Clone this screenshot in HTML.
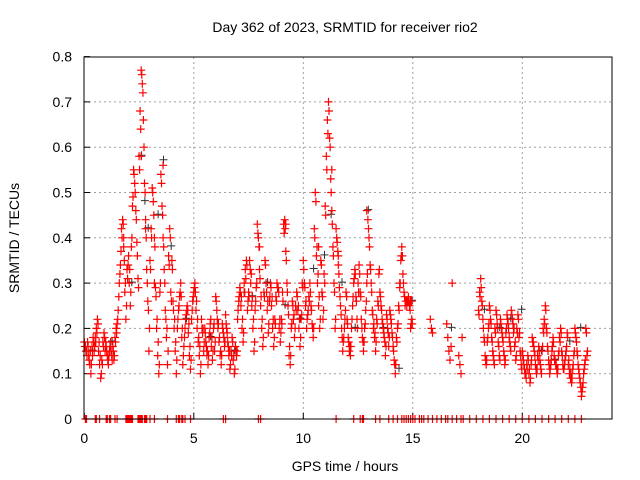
<!DOCTYPE html>
<html><head><meta charset="utf-8"><style>
body{margin:0;background:#fff;}
svg{display:block;font-family:"Liberation Sans",sans-serif;}
</style></head><body>
<svg id="chart" width="640" height="480" viewBox="0 0 640 480">
<text x="345" y="32" font-size="14" text-anchor="middle">Day 362 of 2023, SRMTID for receiver rio2</text>
<text x="345" y="471" font-size="14" text-anchor="middle">GPS time / hours</text>
<text x="19" y="238" font-size="14" text-anchor="middle" transform="rotate(-90 19 238)">SRMTID / TECUs</text>
<g id="grid"></g>
<g id="axes"></g>
<g id="marks"></g>
<rect x="84" y="57" width="528" height="362" fill="none" stroke="#000" stroke-width="1"/>
</svg>
<script>
const xTicks=[0,5,10,15,20];
const yTicks=[0,0.1,0.2,0.3,0.4,0.5,0.6,0.7,0.8];
const yTickLabels=["0","0.1","0.2","0.3","0.4","0.5","0.6","0.7","0.8"];
const segStart=[0,0.5,1,1.5,2,2.5,3,3.5,4,4.5,5,5.5,6,6.5,7,7.5,8,8.5,9,9.5,10,10.5,11,11.5,12,12.5,13,13.5,14,14.5,18,18.5,19,19.5,20,20.5,21,21.5,22,22.5];
const segVals=[
[0.17,0.16,0.15,0.17,0.14,0.12,0.1,0.16,0.18,0.15],
[0.18,0.2,0.22,0.15,0.12,0.09,0.13,0.17,0.19,0.15],
[0.16,0.14,0.12,0.15,0.17,0.14,0.16,0.13,0.18,0.2],
[0.21,0.24,0.3,0.34,0.42,0.44,0.38,0.28,0.22,0.33],
[0.34,0.3,0.25,0.38,0.47,0.55,0.52,0.46,0.39,0.31],
[0.58,0.68,0.77,0.74,0.66,0.52,0.42,0.33,0.26,0.15],
[0.35,0.42,0.51,0.48,0.4,0.29,0.2,0.14,0.1,0.28],
[0.54,0.47,0.4,0.33,0.24,0.18,0.12,0.36,0.42,0.28],
[0.35,0.26,0.2,0.15,0.1,0.2,0.24,0.27,0.3,0.18],
[0.12,0.16,0.2,0.23,0.25,0.19,0.14,0.11,0.22,0.26],
[0.28,0.3,0.24,0.2,0.17,0.14,0.1,0.22,0.19,0.15],
[0.2,0.17,0.14,0.12,0.18,0.21,0.16,0.13,0.2,0.15],
[0.27,0.24,0.2,0.17,0.14,0.12,0.21,0.19,0.16,0.23],
[0.2,0.17,0.14,0.11,0.15,0.18,0.13,0.1,0.16,0.14],
[0.22,0.26,0.29,0.25,0.2,0.17,0.3,0.33,0.35,0.24],
[0.28,0.35,0.3,0.25,0.2,0.15,0.24,0.29,0.43,0.4],
[0.33,0.25,0.2,0.16,0.28,0.35,0.3,0.24,0.19,0.26],
[0.3,0.25,0.2,0.16,0.22,0.27,0.3,0.29,0.2,0.17],
[0.22,0.28,0.43,0.44,0.37,0.3,0.25,0.14,0.12,0.2],
[0.26,0.22,0.18,0.25,0.28,0.24,0.2,0.16,0.22,0.3],
[0.35,0.3,0.25,0.2,0.23,0.27,0.3,0.25,0.21,0.18],
[0.42,0.5,0.36,0.3,0.25,0.2,0.35,0.28,0.22,0.32],
[0.47,0.58,0.66,0.7,0.62,0.53,0.46,0.38,0.3,0.2],
[0.42,0.39,0.34,0.29,0.25,0.2,0.15,0.18,0.22,0.28],
[0.22,0.18,0.15,0.14,0.2,0.25,0.3,0.33,0.27,0.22],
[0.3,0.34,0.28,0.22,0.18,0.15,0.2,0.24,0.3,0.44],
[0.4,0.34,0.3,0.24,0.2,0.18,0.15,0.22,0.26,0.32],
[0.28,0.25,0.22,0.2,0.18,0.14,0.23,0.2,0.16,0.24],
[0.22,0.19,0.16,0.13,0.1,0.18,0.2,0.25,0.29,0.35],
[0.38,0.32,0.28,0.25,0.26,0.26,0.27,0.25,0.2,0.22],
[0.24,0.28,0.31,0.26,0.22,0.18,0.14,0.12,0.17,0.2],
[0.25,0.22,0.18,0.15,0.13,0.2,0.24,0.21,0.17,0.14],
[0.22,0.2,0.18,0.15,0.12,0.19,0.23,0.21,0.18,0.16],
[0.24,0.22,0.19,0.16,0.13,0.2,0.23,0.18,0.15,0.12],
[0.15,0.13,0.11,0.1,0.12,0.14,0.1,0.08,0.12,0.18],
[0.17,0.15,0.12,0.1,0.14,0.16,0.13,0.11,0.15,0.2],
[0.22,0.25,0.2,0.16,0.13,0.1,0.12,0.15,0.18,0.14],
[0.13,0.12,0.1,0.14,0.18,0.2,0.15,0.12,0.11,0.13],
[0.15,0.19,0.12,0.1,0.09,0.08,0.11,0.14,0.2,0.18],
[0.15,0.12,0.1,0.08,0.05,0.07,0.1,0.12,0.2,0.14]
];
const segVals2=[
[0.16,0.15,0.14,0.16,0.13,0.15,0.12,0.14,0.17,0.16],
[0.17,0.19,0.21,0.17,0.14,0.1,0.12,0.16,0.18,0.17],
[0.15,0.13,0.14,0.16,0.15,0.13,0.15,0.14,0.17,0.19],
[0.22,0.27,0.32,0.37,0.4,0.43,0.35,0.3,0.25,0.31],
[0.36,0.33,0.28,0.4,0.49,0.54,0.5,0.44,0.36,0.29],
[0.55,0.64,0.76,0.72,0.6,0.5,0.4,0.3,0.24,0.2],
[0.33,0.4,0.5,0.45,0.38,0.27,0.22,0.17,0.12,0.3],
[0.52,0.45,0.38,0.3,0.22,0.2,0.15,0.34,0.4,0.26],
[0.33,0.24,0.22,0.17,0.13,0.22,0.25,0.28,0.27,0.2],
[0.14,0.18,0.22,0.24,0.24,0.21,0.16,0.13,0.24,0.27],
[0.29,0.28,0.26,0.22,0.18,0.16,0.12,0.2,0.2,0.17],
[0.19,0.16,0.15,0.14,0.19,0.22,0.18,0.15,0.21,0.17],
[0.26,0.22,0.21,0.18,0.15,0.14,0.2,0.18,0.17,0.21],
[0.19,0.16,0.15,0.12,0.14,0.17,0.14,0.11,0.15,0.15],
[0.24,0.27,0.28,0.27,0.22,0.19,0.28,0.31,0.34,0.26],
[0.27,0.33,0.32,0.27,0.22,0.17,0.26,0.3,0.41,0.38],
[0.31,0.27,0.22,0.18,0.27,0.34,0.28,0.26,0.21,0.27],
[0.29,0.27,0.22,0.18,0.21,0.26,0.29,0.28,0.22,0.19],
[0.21,0.26,0.41,0.42,0.35,0.28,0.23,0.16,0.14,0.21],
[0.25,0.23,0.2,0.24,0.27,0.25,0.22,0.18,0.23,0.29],
[0.33,0.29,0.26,0.22,0.24,0.26,0.28,0.24,0.2,0.2],
[0.4,0.48,0.38,0.32,0.27,0.22,0.34,0.27,0.24,0.3],
[0.45,0.55,0.63,0.68,0.6,0.5,0.43,0.36,0.28,0.22],
[0.4,0.37,0.32,0.27,0.23,0.18,0.17,0.2,0.24,0.27],
[0.21,0.17,0.16,0.16,0.22,0.27,0.31,0.32,0.26,0.2],
[0.28,0.32,0.27,0.2,0.17,0.17,0.21,0.26,0.32,0.42],
[0.38,0.33,0.28,0.23,0.21,0.19,0.17,0.21,0.25,0.33],
[0.27,0.24,0.21,0.19,0.17,0.16,0.22,0.19,0.18,0.23],
[0.21,0.18,0.15,0.12,0.12,0.17,0.21,0.24,0.3,0.36],
[0.36,0.3,0.27,0.26,0.25,0.26,0.26,0.24,0.21,0.21],
[0.23,0.27,0.29,0.25,0.2,0.17,0.13,0.13,0.18,0.21],
[0.24,0.21,0.17,0.14,0.12,0.19,0.23,0.2,0.16,0.13],
[0.21,0.19,0.17,0.14,0.13,0.2,0.22,0.2,0.17,0.15],
[0.23,0.21,0.2,0.17,0.14,0.19,0.22,0.19,0.14,0.11],
[0.14,0.12,0.1,0.09,0.11,0.13,0.11,0.09,0.13,0.17],
[0.16,0.14,0.11,0.11,0.13,0.15,0.12,0.1,0.16,0.19],
[0.21,0.24,0.19,0.15,0.12,0.11,0.13,0.16,0.17,0.13],
[0.12,0.11,0.11,0.15,0.17,0.19,0.14,0.11,0.12,0.14],
[0.16,0.18,0.13,0.11,0.1,0.09,0.12,0.15,0.19,0.17],
[0.14,0.11,0.09,0.07,0.06,0.08,0.11,0.13,0.19,0.15]
];
const extraTimes=[15.8,15.85,15.9,16.55,16.6,16.65,16.7,16.75,16.8,17.1,17.15,17.2,17.25,1.8,2.3,2.6,2.8,3.2,3.6,7.3,8.0,9.2,10.7,11.3,11.6,12.9,14.4,14.9,14.95];
const extraVals=[0.22,0.2,0.19,0.21,0.18,0.15,0.13,0.16,0.3,0.14,0.12,0.1,0.18,0.4,0.52,0.58,0.44,0.3,0.56,0.28,0.38,0.43,0.38,0.55,0.36,0.46,0.3,0.26,0.26];
const blackTimes=[0.3,1.2,2.1,2.55,2.7,2.85,3.3,3.55,3.9,4.6,5.7,6.8,7.6,8.3,9.1,9.8,10.4,10.9,11.2,11.7,12.3,12.9,13.6,14.3,14.9,16.7,18.2,18.9,19.4,19.9,20.8,21.4,22.1,22.6];
const blackVals=[0.15,0.17,0.3,0.58,0.48,0.42,0.45,0.57,0.38,0.22,0.18,0.15,0.27,0.3,0.25,0.22,0.33,0.36,0.45,0.3,0.2,0.46,0.2,0.11,0.26,0.2,0.24,0.2,0.22,0.24,0.15,0.13,0.17,0.2];
const zeroTimes=[0.05,0.1,0.5,0.55,0.7,1.0,1.05,1.15,1.2,1.4,1.5,1.9,1.95,2.0,2.05,2.1,2.15,2.2,2.45,2.5,2.55,2.6,2.65,2.75,2.8,2.85,3.0,3.2,3.8,4.2,4.3,4.35,4.45,4.5,4.6,4.85,6.35,6.45,7.95,8.05,11.5,12.3,12.6,12.7,12.75,13.3,13.5,13.9,14.1,14.3,14.5,14.6,14.7,14.8,14.9,15.0,15.1,15.3,15.4,15.5,15.7,15.9,16.1,16.3,16.5,16.6,16.8,17.0,17.2,17.3,17.6,17.9,18.2,18.5,18.8,19.1,19.4,19.7,20.0,20.3,20.6,20.9,21.2,21.5,21.8,22.1,22.4,22.7];
const sx=t=>84.3+t*21.9;
const sy=v=>419-v*453;
const NS="http://www.w3.org/2000/svg";
const grid=document.getElementById('grid'),axes=document.getElementById('axes'),marks=document.getElementById('marks');
function mk(tag,attrs,parent){const e=document.createElementNS(NS,tag);for(const k in attrs)e.setAttribute(k,attrs[k]);parent.appendChild(e);return e;}
xTicks.forEach(t=>{const x=sx(t);
 if(t>0){const g=mk('line',{x1:x,y1:57,x2:x,y2:419,stroke:'#a0a0a0','stroke-dasharray':'2,3'},grid);}
 const tk=mk('line',{x1:x,y1:419,x2:x,y2:413,stroke:'#000'},axes);
 const lb=mk('text',{x:x,y:443,'font-size':14,'text-anchor':'middle'},axes);lb.textContent=t;});
yTicks.forEach((v,i)=>{const y=sy(v);
 if(v>0&&v<0.8){const g=mk('line',{x1:84,y1:y,x2:612,y2:y,stroke:'#a0a0a0','stroke-dasharray':'2,3'},grid);}
 const tk=mk('line',{x1:84,y1:y,x2:90,y2:y,stroke:'#000'},axes);
 const lb=mk('text',{x:72,y:y+5,'font-size':14,'text-anchor':'end'},axes);lb.textContent=yTickLabels[i];});
function plus(x,y){return `M${(x-4).toFixed(1)} ${y.toFixed(1)}h8M${x.toFixed(1)} ${(y-4).toFixed(1)}v8`;}
let dB='';
blackTimes.forEach((t,i)=>{dB+=plus(sx(t)+1.5,sy(blackVals[i])-1);});
const pb=mk('path',{d:dB,stroke:'#303030','stroke-width':1,fill:'none'},marks);

let dR='';
segStart.forEach((s,j)=>{segVals[j].forEach((v,i)=>{dR+=plus(sx(s+i*0.05),sy(v));});});
segStart.forEach((s,j)=>{segVals2[j].forEach((v,i)=>{dR+=plus(sx(s+0.025+i*0.05),sy(v));});});
extraTimes.forEach((t,i)=>{dR+=plus(sx(t),sy(extraVals[i]));});
zeroTimes.forEach(t=>{dR+=plus(sx(t),sy(0));});
const pr=mk('path',{d:dR,stroke:'#ff0000','stroke-width':1.2,fill:'none'},marks);

</script>
</body></html>
